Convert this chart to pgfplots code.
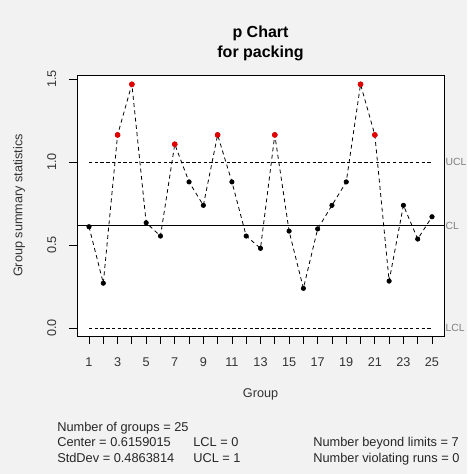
\documentclass[border=0pt]{standalone}
\usepackage{pgfplots}
\pgfplotsset{compat=1.18}
\usepackage{fontspec}
\setmainfont{Liberation Sans}
\begin{document}
\begin{tikzpicture}[x=1pt,y=1pt]
\fill[gray!10] (0,0) rectangle (350.25,355.5);
\begin{axis}[
  at={(57.75pt,103.5pt)}, anchor=south west,
  scale only axis, width=275.25pt, height=195.75pt,
  xmin=0.16, xmax=25.84, ymin=-0.048, ymax=1.524,
  clip=false,
  axis background/.style={fill=white},
  axis line style={line width=0.7pt},
  tick style={black, line width=0.6pt},
  tick align=outside, major tick length=6pt,
  xtick pos=bottom, ytick pos=left,
  xtick={1,2,...,25},
  xticklabels={1,{},3,{},5,{},7,{},9,{},11,{},13,{},15,{},17,{},19,{},21,{},23,{},25},
  ytick={0,0.5,1,1.5},
  yticklabels={0.0,0.5,1.0,1.5},
  /pgf/number format/assume math mode=true,
  ticklabel style={font=\fontsize{9.5}{11}\selectfont, text=black!80},
  yticklabel style={rotate=90, anchor=south},
  xticklabel style={anchor=north},
  xticklabel shift=6.5pt,
  yticklabel shift=6pt,
]
\pgfplotstableread{
g p
1 0.61
2 0.27
3 1.163
4 1.468
5 0.634
6 0.554
7 1.107
8 0.88
9 0.739
10 1.163
11 0.88
12 0.554
13 0.48
14 1.163
15 0.584
16 0.239
17 0.597
18 0.739
19 0.88
20 1.468
21 1.163
22 0.283
23 0.739
24 0.536
25 0.67
}\datatab
\pgfplotstableread{
g p
3 1.163
4 1.468
7 1.107
10 1.163
14 1.163
20 1.468
21 1.163
}\redtab
\addplot[black, line width=0.6pt, dash pattern=on 3pt off 2.5pt] table[x=g,y=p] {\datatab};
\addplot[only marks, mark=*, mark size=1.7pt, black] table[x=g,y=p] {\datatab};
\addplot[only marks, mark=*, mark size=1.9pt, red!90!black, mark options={draw=red!90!black}] table[x=g,y=p] {\redtab};
\addplot[black, line width=0.7pt] coordinates {(0.16,0.6159015) (25.84,0.6159015)};
\addplot[black, line width=0.6pt, dash pattern=on 2.5pt off 1.8pt] coordinates {(1,1) (25,1)};
\addplot[black, line width=0.6pt, dash pattern=on 2.5pt off 1.8pt] coordinates {(1,0) (25,0)};
\node[anchor=west, text=gray, font=\fontsize{7.8}{9}\selectfont, inner sep=0pt, xshift=1pt] at (axis cs:25.84,1) {UCL};
\node[anchor=west, text=gray, font=\fontsize{7.8}{9}\selectfont, inner sep=0pt, xshift=1pt] at (axis cs:25.84,0.6159015) {CL};
\node[anchor=west, text=gray, font=\fontsize{7.8}{9}\selectfont, inner sep=0pt, xshift=1pt] at (axis cs:25.84,0) {LCL};
\end{axis}
% titles and labels
\node[anchor=base, font=\bfseries\fontsize{12}{14}\selectfont] at (195.4,327) {p Chart};
\node[anchor=base, font=\bfseries\fontsize{12}{14}\selectfont] at (195.4,312.5) {for packing};
\node[anchor=base, font=\fontsize{9.5}{11}\selectfont, text=black!80] at (195.4,57.5) {Group};
\node[rotate=90, font=\fontsize{9.5}{11}\selectfont, text=black!80] at (14.25,201.4) {Group summary statistics};
% summary text
\begin{scope}[every node/.style={anchor=base west, inner sep=0pt, font=\fontsize{9.6}{11}\selectfont, text=black!85}]
\node at (42.75,31.5) {Number of groups = 25};
\node at (42.75,20.25) {Center = 0.6159015};
\node at (42.75,9) {StdDev = 0.4863814};
\node at (144.75,20.25) {LCL = 0};
\node at (144.75,9) {UCL = 1};
\node at (234.75,20.25) {Number beyond limits = 7};
\node at (234.75,9) {Number violating runs = 0};
\end{scope}
\pgfresetboundingbox
\useasboundingbox (0,0) rectangle (350.25,355.5);
\end{tikzpicture}
\end{document}
